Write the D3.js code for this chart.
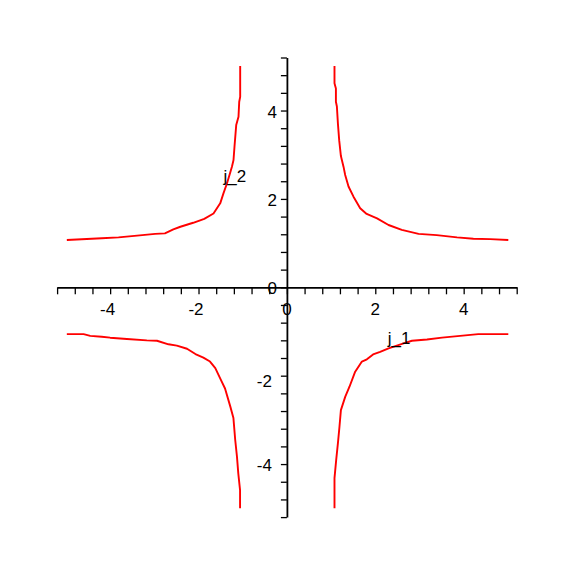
<!DOCTYPE html>
<html>
<head>
<meta charset="utf-8">
<script src="https://cdn.jsdelivr.net/npm/d3@7"></script>
<style>
html,body{margin:0;padding:0;background:#fff;}
svg{display:block;}
text{font-family:"Liberation Sans",Arial,Helvetica,sans-serif;font-size:17px;fill:#000;}
</style>
</head>
<body>
<svg id="chart" width="575" height="575"></svg>
<script>
// Quadrant curves (j_1, j_2)
const q1 = [[1.077,5.01],[1.077,4.62],[1.109,4.50],[1.109,4.20],[1.131,4.09],[1.154,3.71],[1.183,3.33],[1.222,2.97],[1.281,2.73],[1.319,2.54],[1.394,2.28],[1.507,2.05],[1.658,1.79],[1.805,1.66],[2.04,1.56],[2.30,1.41],[2.60,1.30],[2.98,1.21],[3.39,1.18],[3.85,1.13],[4.22,1.10],[4.60,1.09],[5.01,1.07]];
const q2 = [[-1.057,5.01],[-1.057,4.31],[-1.079,4.20],[-1.095,3.86],[-1.147,3.67],[-1.186,3.18],[-1.208,2.88],[-1.244,2.73],[-1.299,2.54],[-1.357,2.35],[-1.434,2.13],[-1.509,1.90],[-1.661,1.67],[-1.87,1.55],[-2.12,1.46],[-2.41,1.37],[-2.57,1.31],[-2.76,1.22],[-2.98,1.21],[-3.39,1.17],[-3.81,1.13],[-4.19,1.11],[-4.98,1.07]];
const q3 = [[-4.98,-1.06],[-4.60,-1.06],[-4.45,-1.10],[-4.19,-1.12],[-4.00,-1.14],[-3.62,-1.17],[-3.17,-1.20],[-2.94,-1.21],[-2.68,-1.29],[-2.49,-1.32],[-2.26,-1.39],[-2.07,-1.51],[-1.89,-1.59],[-1.74,-1.68],[-1.62,-1.83],[-1.51,-2.06],[-1.40,-2.29],[-1.28,-2.70],[-1.21,-2.96],[-1.17,-3.45],[-1.13,-3.83],[-1.10,-4.21],[-1.06,-4.59],[-1.06,-5.00]];
const q4 = [[1.077,-5.00],[1.077,-4.32],[1.115,-3.91],[1.154,-3.53],[1.190,-3.15],[1.222,-2.78],[1.319,-2.48],[1.416,-2.25],[1.545,-1.91],[1.697,-1.68],[1.81,-1.63],[1.95,-1.52],[2.11,-1.46],[2.30,-1.38],[2.64,-1.27],[2.83,-1.21],[3.17,-1.18],[3.51,-1.14],[3.92,-1.10],[4.33,-1.06],[5.01,-1.06]];
const curves = [q1, q2, q3, q4];

const domainX = [-5.2, 5.2];
const domainY = [-5.2, 5.2];
const tickValues = d3.range(-13, 14).map(k => +(k * 0.4).toFixed(1));
const xLabels = [-4, -2, 0, 2, 4];
const yLabels = [-4, -2, 0, 2, 4];
const axisNames = [{text: "j_1", x: 2.54, y: -1.28}, {text: "j_2", x: -1.18, y: 2.39}];

const svg = d3.select("#chart");
const x = d3.scaleLinear().domain(domainX).range([57.1, 516.7]);
const y = d3.scaleLinear().domain(domainY).range([517.1, 57.5]);

// curves
const line = d3.line().x(d => x(d[0])).y(d => y(d[1]));
svg.append("g").selectAll("path").data(curves).join("path")
  .attr("d", line)
  .attr("fill", "none")
  .attr("stroke", "#ff0000")
  .attr("stroke-width", 1.9)
  .attr("stroke-linejoin", "round");

// axes
const gx = svg.append("g").attr("transform", `translate(0,${y(0)})`)
  .call(d3.axisBottom(x).tickValues(tickValues).tickSize(7).tickSizeOuter(0).tickFormat(""));
const gy = svg.append("g").attr("transform", `translate(${x(0)},0)`)
  .call(d3.axisLeft(y).tickValues(tickValues).tickSize(6).tickSizeOuter(0).tickFormat(""));
[gx, gy].forEach(g => {
  g.select(".domain").attr("stroke", "#000").attr("stroke-width", 1.8);
  g.selectAll(".tick line").attr("stroke", "#000").attr("stroke-width", 1.3);
});

// tick labels
svg.append("g").selectAll("text").data(xLabels).join("text")
  .attr("x", d => x(d) + (d < 0 ? -2.5 : 0))
  .attr("y", y(0) + 27.5)
  .attr("text-anchor", "middle")
  .text(d => d);
svg.append("g").selectAll("text").data(yLabels).join("text")
  .attr("x", d => x(0) - (d < 0 ? 15 : 10))
  .attr("y", d => y(d) + 7 + (d === -2 ? 4 : 0))
  .attr("text-anchor", "end")
  .text(d => d);

// axis names
svg.append("g").selectAll("text").data(axisNames).join("text")
  .attr("x", d => x(d.x))
  .attr("y", d => y(d.y))
  .attr("text-anchor", "middle")
  .text(d => d.text);
</script>
</body>
</html>
